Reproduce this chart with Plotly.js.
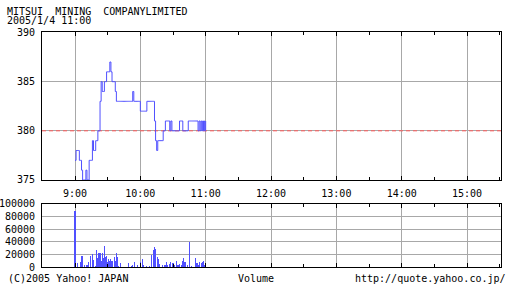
<!DOCTYPE html>
<html>
<head>
<meta charset="utf-8">
<script src="https://cdn.plot.ly/plotly-3.0.1.min.js"></script>
<style>html,body{margin:0;padding:0;background:#fff;}#chart{width:512px;height:288px;}</style>
</head>
<body>
<div id="chart"></div>
<script>
// ---- data ----
const titleLine1 = "MITSUI  MINING  COMPANYLIMITED";
const titleLine2 = "2005/1/4 11:00";
const startMinute = 540; // 9:00 in minutes after midnight
// close price per minute from 9:00 to 11:00
const priceValues = [
  377,378,378,378,377,377,376,375,375,375,
  376,375,375,377,377,377,379,378,378,379,
  379,380,380,383,385,384,384,385,385,386,
  386,386,387,386,385,385,385,384,383,383,
  383,383,383,383,383,383,383,383,383,383,
  383,383,383,384,383,383,383,383,383,383,
  382,382,382,382,382,382,383,383,383,383,
  383,383,383,381,379,378,379,379,379,379,
  379,380,380,381,381,381,381,380,381,380,
  380,380,380,380,380,380,381,381,381,380,
  380,380,380,380,381,381,381,381,381,381,
  381,381,381,380,381,380,381,380,381,380,
  381
];
const prevClose = 380;
const volMinutes = [0,2,5,6,7,9,11,12,14,16,17,19,20,21,22,23,24,25,26,27,28,29,30,31,32,33,34,36,37,38,39,40,42,49,52,53,55,57,60,62,63,66,68,70,72,73,74,76,77,78,80,82,83,84,85,87,88,90,91,93,94,95,96,98,99,100,101,103,105,107,111,112,113,114,116,117,118,119];
const volValues  = [89000,6300,8000,17500,17500,2600,3700,8000,17500,20600,10600,1600,27000,14300,21700,21700,10000,21700,13800,33300,15300,17500,8000,13200,10000,13200,9000,15300,9000,21700,15300,1600,6300,6300,1600,2600,8000,3700,8000,12200,2600,1600,1600,18500,27000,32300,28000,15300,13200,4800,2600,2600,2600,8000,2600,4800,8000,6900,2600,10000,2600,3700,4800,2600,9000,14300,8000,2600,39700,1600,14300,5800,3700,8000,6900,8000,10000,3700];
const hourVals   = [540,600,660,720,780,840,900];
const hourLabels = ["9:00","10:00","11:00","12:00","13:00","14:00","15:00"];
const priceTicks = [375,380,385,390];
const volTicks   = [0,20000,40000,60000,80000,100000];
const footerLeft = "(C)2005 Yahoo! JAPAN";
const footerMid = "Volume";
const footerRight = "http://quote.yahoo.co.jp/";

// ---- build ----
const priceX = priceValues.map((v,i)=>startMinute+i);
const volX = volMinutes.map(m=>startMinute+m);
const xRange = [509.7, 931.2];
const font = 'DejaVu Sans Mono';
const grid = '#a8a8a8';
const blue = 'rgb(80,80,255)';

const traces = [
  {x:xRange, y:[prevClose,prevClose], xaxis:'x', yaxis:'y', mode:'lines',
   line:{color:'rgb(255,90,90)', width:1, dash:'4px,3px'}, hoverinfo:'skip'},
  {x:priceX, y:priceValues, xaxis:'x', yaxis:'y', mode:'lines',
   line:{color:blue, width:1, shape:'hv'}},
  {x:volX, y:volValues, xaxis:'x2', yaxis:'y2', type:'bar', width:1.0,
   marker:{color:blue, line:{width:0}}}
];

const xCommon = {
  domain:[42/512, 501/512], range:xRange, tickmode:'array', tickvals:hourVals, ticktext:hourLabels,
  ticks:'inside', ticklen:4, tickcolor:'black', tickwidth:1,
  showline:true, linecolor:'black', linewidth:1, mirror:'allticks',
  showgrid:true, gridcolor:grid, gridwidth:1, zeroline:false,
  minor:{tickmode:'linear', tick0:510, dtick:30, ticks:'inside', ticklen:3, tickcolor:'black', showgrid:false},
  tickfont:{family:font, size:10, color:'black'}, ticklabelstandoff:4, fixedrange:true
};
const yCommon = {
  ticks:'', showline:true, linecolor:'black', linewidth:1, mirror:true,
  showgrid:true, gridcolor:grid, gridwidth:1, zeroline:false,
  tickfont:{family:font, size:10, color:'black'}, ticklabelstandoff:4, fixedrange:true
};

const ann = (text,x,y,xanchor)=>({text:text, x:x, y:y, xref:'paper', yref:'paper',
  xanchor:xanchor, yanchor:'middle', showarrow:false, font:{family:font, size:10, color:'black'}});

const layout = {
  width:512, height:288, margin:{l:0,r:0,t:0,b:0},
  paper_bgcolor:'white', plot_bgcolor:'white', showlegend:false, bargap:0,
  font:{family:font, size:10, color:'black'},
  xaxis:Object.assign({}, xCommon, {anchor:'y'}),
  yaxis:Object.assign({}, yCommon, {domain:[0.375, 0.8872], range:[375,390], tickmode:'array', tickvals:priceTicks}),
  xaxis2:Object.assign({}, xCommon, {anchor:'y2', showticklabels:false}),
  yaxis2:Object.assign({}, yCommon, {domain:[0.0729, 0.2917], range:[0,100000], tickmode:'array', tickvals:volTicks,
    ticktext:volTicks.map(String)}),
  annotations:[
    ann(titleLine1, 5/512, 1-12/288, 'left'),
    ann(titleLine2, 5/512, 1-21/288, 'left'),
    ann(footerLeft, 6/512, 1-278.5/288, 'left'),
    ann(footerMid, 256/512, 1-278.5/288, 'center'),
    ann(footerRight, 508/512, 1-278.5/288, 'right')
  ]
};

Plotly.newPlot('chart', traces, layout, {staticPlot:true, displayModeBar:false});
</script>
</body>
</html>
